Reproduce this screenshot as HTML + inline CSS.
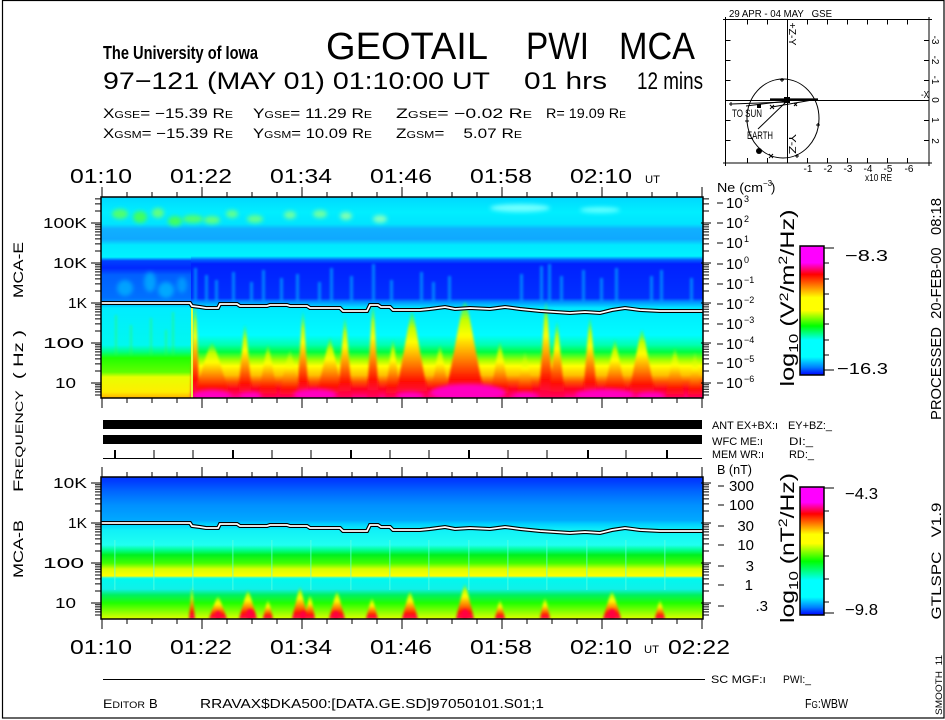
<!DOCTYPE html>
<html>
<head>
<meta charset="utf-8">
<style>
html,body{margin:0;padding:0;background:#fff;}
body{width:945px;height:720px;overflow:hidden;}
svg{display:block;}
text{font-family:"Liberation Sans",sans-serif;fill:#000;}
</style>
</head>
<body>
<svg width="945" height="720" viewBox="0 0 945 720" xmlns="http://www.w3.org/2000/svg">
<defs>
  <linearGradient id="gTopR" gradientUnits="userSpaceOnUse" x1="0" y1="197" x2="0" y2="398">
    <stop offset="0" stop-color="#00d8ff"/>
    <stop offset="0.075" stop-color="#00eeff"/>
    <stop offset="0.134" stop-color="#00e4ff"/>
    <stop offset="0.159" stop-color="#10b0ff"/>
    <stop offset="0.209" stop-color="#10a8ff"/>
    <stop offset="0.239" stop-color="#00e8ff"/>
    <stop offset="0.294" stop-color="#00f2ff"/>
    <stop offset="0.313" stop-color="#0060ff"/>
    <stop offset="0.333" stop-color="#0020ff"/>
    <stop offset="0.502" stop-color="#0030ff"/>
    <stop offset="0.522" stop-color="#0090ff"/>
    <stop offset="0.552" stop-color="#00e8ff"/>
    <stop offset="0.687" stop-color="#00fcff"/>
    <stop offset="0.736" stop-color="#00ffb0"/>
    <stop offset="0.771" stop-color="#00ff40"/>
    <stop offset="0.811" stop-color="#a0ff00"/>
    <stop offset="0.841" stop-color="#ffff00"/>
    <stop offset="0.886" stop-color="#ffc000"/>
    <stop offset="0.920" stop-color="#ff5000"/>
    <stop offset="0.955" stop-color="#ff0020"/>
    <stop offset="1" stop-color="#ff0090"/>
  </linearGradient>
  <linearGradient id="gTopL" gradientUnits="userSpaceOnUse" x1="0" y1="197" x2="0" y2="398">
    <stop offset="0" stop-color="#00d8ff"/>
    <stop offset="0.075" stop-color="#00eeff"/>
    <stop offset="0.134" stop-color="#00e4ff"/>
    <stop offset="0.159" stop-color="#10b0ff"/>
    <stop offset="0.209" stop-color="#10a8ff"/>
    <stop offset="0.239" stop-color="#00e8ff"/>
    <stop offset="0.299" stop-color="#00f2ff"/>
    <stop offset="0.318" stop-color="#0040ff"/>
    <stop offset="0.353" stop-color="#0028ff"/>
    <stop offset="0.388" stop-color="#0060ff"/>
    <stop offset="0.502" stop-color="#0070ff"/>
    <stop offset="0.522" stop-color="#0090ff"/>
    <stop offset="0.552" stop-color="#00ecff"/>
    <stop offset="0.736" stop-color="#00f8f0"/>
    <stop offset="0.771" stop-color="#00ff80"/>
    <stop offset="0.801" stop-color="#20ff00"/>
    <stop offset="0.871" stop-color="#60ff00"/>
    <stop offset="0.896" stop-color="#e8ff00"/>
    <stop offset="0.970" stop-color="#ffee00"/>
    <stop offset="1" stop-color="#ffb000"/>
  </linearGradient>
  <linearGradient id="gBot" gradientUnits="userSpaceOnUse" x1="0" y1="477" x2="0" y2="619">
    <stop offset="0" stop-color="#0030ff"/>
    <stop offset="0.035" stop-color="#0040ff"/>
    <stop offset="0.106" stop-color="#0068ff"/>
    <stop offset="0.197" stop-color="#0090ff"/>
    <stop offset="0.303" stop-color="#00a8ff"/>
    <stop offset="0.331" stop-color="#00d0ff"/>
    <stop offset="0.373" stop-color="#10f0f8"/>
    <stop offset="0.479" stop-color="#20fff0"/>
    <stop offset="0.514" stop-color="#00ff90"/>
    <stop offset="0.549" stop-color="#00f020"/>
    <stop offset="0.606" stop-color="#40ff00"/>
    <stop offset="0.648" stop-color="#d8ff00"/>
    <stop offset="0.697" stop-color="#ffff00"/>
    <stop offset="0.708" stop-color="#40ffc0"/>
    <stop offset="0.718" stop-color="#00f8f0"/>
    <stop offset="0.789" stop-color="#10f0e8"/>
    <stop offset="0.831" stop-color="#00f060"/>
    <stop offset="0.887" stop-color="#20ff00"/>
    <stop offset="0.944" stop-color="#80ff00"/>
    <stop offset="1" stop-color="#e0ff00"/>
  </linearGradient>
  <linearGradient id="flame" x1="0" y1="0" x2="0" y2="1">
    <stop offset="0" stop-color="#30ff40" stop-opacity="0.5"/>
    <stop offset="0.18" stop-color="#c0ff00"/>
    <stop offset="0.35" stop-color="#ffff00"/>
    <stop offset="0.6" stop-color="#ff8000"/>
    <stop offset="0.8" stop-color="#ff1000"/>
    <stop offset="1" stop-color="#ff0060"/>
  </linearGradient>
  <linearGradient id="cb1" x1="0" y1="0" x2="0" y2="1">
    <stop offset="0" stop-color="#ff00ff"/>
    <stop offset="0.13" stop-color="#ff00ff"/>
    <stop offset="0.22" stop-color="#ff0000"/>
    <stop offset="0.31" stop-color="#ff8000"/>
    <stop offset="0.40" stop-color="#ffff00"/>
    <stop offset="0.50" stop-color="#ffff00"/>
    <stop offset="0.62" stop-color="#00ff00"/>
    <stop offset="0.73" stop-color="#00ffff"/>
    <stop offset="0.86" stop-color="#00ffff"/>
    <stop offset="0.94" stop-color="#0080ff"/>
    <stop offset="1" stop-color="#0000ff"/>
  </linearGradient>
  <linearGradient id="cb2" x1="0" y1="0" x2="0" y2="1">
    <stop offset="0" stop-color="#ff00ff"/>
    <stop offset="0.12" stop-color="#ff00ff"/>
    <stop offset="0.21" stop-color="#ff0000"/>
    <stop offset="0.29" stop-color="#ff8000"/>
    <stop offset="0.37" stop-color="#ffff00"/>
    <stop offset="0.44" stop-color="#ffff00"/>
    <stop offset="0.58" stop-color="#00ff00"/>
    <stop offset="0.73" stop-color="#00ffff"/>
    <stop offset="0.86" stop-color="#00ffff"/>
    <stop offset="0.94" stop-color="#0080ff"/>
    <stop offset="1" stop-color="#0000ff"/>
  </linearGradient>
  <clipPath id="cTop"><rect x="101" y="197" width="602" height="201"/></clipPath>
  <clipPath id="cBot"><rect x="101" y="477" width="602" height="142"/></clipPath>
  <filter id="bl2" x="-30%" y="-30%" width="160%" height="160%"><feGaussianBlur stdDeviation="2"/></filter>
  <filter id="bl1" x="-30%" y="-30%" width="160%" height="160%"><feGaussianBlur stdDeviation="1.4"/></filter>
  <path id="tminT" d="M0 395h6M0 391.9h6M0 389.2h6M0 386.9h6M0 384.8h6M0 371h6M0 363.9h6M0 358.9h6M0 355h6M0 351.9h6M0 349.2h6M0 346.9h6M0 344.8h6M0 331h6M0 323.9h6M0 318.9h6M0 315h6M0 311.9h6M0 309.2h6M0 306.9h6M0 304.8h6M0 291h6M0 283.9h6M0 278.9h6M0 275h6M0 271.9h6M0 269.2h6M0 266.9h6M0 264.8h6M0 251h6M0 243.9h6M0 238.9h6M0 235h6M0 231.9h6M0 229.2h6M0 226.9h6M0 224.8h6M0 211h6M0 203.9h6M0 198.9h6"/>
  <path id="tmajT" d="M0 383h10M0 343h10M0 303h10M0 263h10M0 223h10"/>
  <path id="tminB" d="M0 604.8h6M0 606.9h6M0 609.2h6M0 611.9h6M0 615h6M0 591h6M0 583.9h6M0 578.9h6M0 575h6M0 571.9h6M0 569.2h6M0 566.9h6M0 564.8h6M0 551h6M0 543.9h6M0 538.9h6M0 535h6M0 531.9h6M0 529.2h6M0 526.9h6M0 524.8h6M0 511h6M0 503.9h6M0 498.9h6M0 495h6M0 491.9h6M0 489.2h6M0 486.9h6M0 484.8h6"/>
  <path id="tmajB" d="M0 603h10M0 563h10M0 523h10M0 483h10"/>
  <path id="xmaj" d="M102 0v10M202 0v10M302 0v10M402 0v10M502 0v10M602 0v10M702 0v10"/>
  <path id="xmin" d="M127 0v5M152 0v5M177 0v5M227 0v5M252 0v5M277 0v5M327 0v5M352 0v5M377 0v5M427 0v5M452 0v5M477 0v5M527 0v5M552 0v5M577 0v5M627 0v5M652 0v5M677 0v5"/>
</defs>

<!-- frame -->
<rect x="2.5" y="0.5" width="941.5" height="717.5" fill="none" stroke="#000" stroke-width="1.2"/>

<!-- header -->
<text x="103" y="59" font-size="18" font-weight="bold" textLength="155" lengthAdjust="spacingAndGlyphs">The University of Iowa</text>
<text x="326" y="59" font-size="38" textLength="162" lengthAdjust="spacingAndGlyphs">GEOTAIL</text>
<text x="526" y="59" font-size="38" textLength="63" lengthAdjust="spacingAndGlyphs">PWI</text>
<text x="619" y="59" font-size="38" textLength="76" lengthAdjust="spacingAndGlyphs">MCA</text>
<text x="103" y="89" font-size="24" textLength="387" lengthAdjust="spacingAndGlyphs">97−121 (MAY 01) 01:10:00 UT</text>
<text x="524" y="89" font-size="24" textLength="83" lengthAdjust="spacingAndGlyphs">01 hrs</text>
<text x="637" y="89" font-size="24" textLength="66" lengthAdjust="spacingAndGlyphs">12 mins</text>

<text x="103" y="118" font-size="14" textLength="130" lengthAdjust="spacingAndGlyphs">X<tspan font-size="10">GSE</tspan>= −15.39 R<tspan font-size="10">E</tspan></text>
<text x="253" y="118" font-size="14" textLength="119" lengthAdjust="spacingAndGlyphs">Y<tspan font-size="10">GSE</tspan>=  11.29 R<tspan font-size="10">E</tspan></text>
<text x="396" y="118" font-size="14" textLength="136" lengthAdjust="spacingAndGlyphs">Z<tspan font-size="10">GSE</tspan>=  −0.02 R<tspan font-size="10">E</tspan></text>
<text x="546" y="118" font-size="14" textLength="80" lengthAdjust="spacingAndGlyphs">R= 19.09 R<tspan font-size="10">E</tspan></text>
<text x="103" y="138" font-size="14" textLength="130" lengthAdjust="spacingAndGlyphs">X<tspan font-size="10">GSM</tspan>= −15.39 R<tspan font-size="10">E</tspan></text>
<text x="253" y="138" font-size="14" textLength="119" lengthAdjust="spacingAndGlyphs">Y<tspan font-size="10">GSM</tspan>=  10.09 R<tspan font-size="10">E</tspan></text>
<text x="396" y="138" font-size="14" textLength="126" lengthAdjust="spacingAndGlyphs" xml:space="preserve">Z<tspan font-size="10">GSM</tspan>=    5.07 R<tspan font-size="10">E</tspan></text>

<!-- orbit plot -->
<g stroke="#000" fill="none" stroke-width="1">
  <rect x="725.5" y="19.5" width="203.5" height="143.5"/>
  <path d="M787.5 19.5V163M725.5 100.5H929"/>
  <path d="M747.5 19.5v5M767.5 19.5v5M807.5 19.5v5M827.5 19.5v5M847.5 19.5v5M867.5 19.5v5M887.5 19.5v5M907.5 19.5v5"/>
  <path d="M747.5 163v-5M767.5 163v-5M807.5 163v-5M827.5 163v-5M847.5 163v-5M867.5 163v-5M887.5 163v-5M907.5 163v-5"/>
  <path d="M725.5 40.5h5M725.5 60.5h5M725.5 80.5h5M725.5 120.5h5M725.5 140.5h5"/>
  <path d="M929 40.5h-5M929 60.5h-5M929 80.5h-5M929 120.5h-5M929 140.5h-5"/>
  <path d="M723 19.5h5M725.5 17v5M927 19.5h5M929 17v5M723 163h5M725.5 161v5M927 163h5M929 161v5"/>
  <ellipse cx="783" cy="118.5" rx="36" ry="39.5"/>
  <path d="M731 104L787 102"/>
  <path d="M746 106L787 101"/>
  <path d="M772 107L818 99"/>
  <path d="M770 99.5L818 99.5" stroke-width="2.2"/>
  <path d="M758 129L787 101"/>
  <path d="M729 104h4M731 102v4"/>
  <path d="M780 80h4M782 78v4M816 125h4M818 123v4M795 156h4M797 154v4M745 121h4M747 119v4M769 154l4 4M773 154l-4 4M770 105l4 4M774 105l-4 4M794 103l3 3M797 103l-3 3"/>
</g>
<rect x="757" y="104" width="4" height="4" fill="#000"/>
<circle cx="759" cy="151" r="3" fill="#000"/>
<rect x="784" y="97" width="6" height="6" fill="#000"/>
<text x="729" y="17" font-size="10" textLength="103" lengthAdjust="spacingAndGlyphs" xml:space="preserve">29 APR - 04 MAY   GSE</text>
<text x="732" y="117" font-size="11" textLength="30" lengthAdjust="spacingAndGlyphs">TO SUN</text>
<text x="747" y="139" font-size="11" textLength="26" lengthAdjust="spacingAndGlyphs">EARTH</text>
<text x="921" y="98" font-size="10" textLength="8" lengthAdjust="spacingAndGlyphs">-X</text>
<text x="865" y="181" font-size="10" textLength="27" lengthAdjust="spacingAndGlyphs">x10 RE</text>
<g font-size="10" text-anchor="middle">
  <text x="808" y="172">-1</text><text x="828" y="172">-2</text><text x="848" y="172">-3</text>
  <text x="868" y="172">-4</text><text x="888" y="172">-5</text><text x="909" y="172">-6</text>
</g>
<g font-size="10" text-anchor="middle">
  <text transform="translate(932,40) rotate(90)">-3</text>
  <text transform="translate(932,60) rotate(90)">-2</text>
  <text transform="translate(932,80) rotate(90)">-1</text>
  <text transform="translate(932,100) rotate(90)">0</text>
  <text transform="translate(932,120) rotate(90)">1</text>
  <text transform="translate(932,141) rotate(90)">2</text>
  <text transform="translate(789,34) rotate(90)" textLength="23" lengthAdjust="spacingAndGlyphs">+Z-Y</text>
  <text transform="translate(789,144) rotate(90)" textLength="20" lengthAdjust="spacingAndGlyphs">Y-Z</text>
</g>

<!-- time labels top -->
<g font-size="20" text-anchor="middle">
  <text x="101" y="183" textLength="62" lengthAdjust="spacingAndGlyphs">01:10</text>
  <text x="201" y="183" textLength="62" lengthAdjust="spacingAndGlyphs">01:22</text>
  <text x="301" y="183" textLength="62" lengthAdjust="spacingAndGlyphs">01:34</text>
  <text x="401" y="183" textLength="62" lengthAdjust="spacingAndGlyphs">01:46</text>
  <text x="501" y="183" textLength="62" lengthAdjust="spacingAndGlyphs">01:58</text>
  <text x="601" y="183" textLength="62" lengthAdjust="spacingAndGlyphs">02:10</text>
</g>
<text x="645" y="183" font-size="11" textLength="15" lengthAdjust="spacingAndGlyphs">UT</text>

<!-- TOP PANEL -->
<g clip-path="url(#cTop)">
  <rect x="101" y="197" width="602" height="201" fill="url(#gTopR)"/>
  <rect x="101" y="197" width="90" height="201" fill="url(#gTopL)"/>
  <g filter="url(#bl2)">
    <ellipse cx="120" cy="214" rx="8" ry="5" fill="#50ff70"/>
    <ellipse cx="140" cy="217" rx="7" ry="6" fill="#40ff60"/>
    <ellipse cx="158" cy="213" rx="6" ry="5" fill="#60ff80"/>
    <ellipse cx="175" cy="221" rx="7" ry="5" fill="#40ff60"/>
    <ellipse cx="193" cy="219" rx="10" ry="4" fill="#50ff70"/>
    <ellipse cx="212" cy="220" rx="8" ry="4" fill="#60ff80"/>
    <ellipse cx="232" cy="214" rx="6" ry="4" fill="#60ff90"/>
    <ellipse cx="255" cy="219" rx="8" ry="4" fill="#60ff90"/>
    <ellipse cx="290" cy="215" rx="6" ry="4" fill="#70ffa0"/>
    <ellipse cx="320" cy="214" rx="7" ry="4" fill="#70ffa0"/>
    <ellipse cx="346" cy="216" rx="6" ry="4" fill="#80ffb0"/>
    <ellipse cx="380" cy="219" rx="7" ry="4" fill="#80ffc0"/>
    <ellipse cx="520" cy="208" rx="30" ry="4" fill="#70ffff"/>
    <ellipse cx="600" cy="210" rx="20" ry="3" fill="#60ffff"/>
    <ellipse cx="125" cy="288" rx="8" ry="8" fill="#00c8ff" opacity="0.6"/>
    <ellipse cx="150" cy="282" rx="6" ry="10" fill="#00c8ff" opacity="0.6"/>
    <ellipse cx="166" cy="290" rx="8" ry="8" fill="#00d0ff" opacity="0.6"/>
    <ellipse cx="182" cy="285" rx="5" ry="8" fill="#00b8ff" opacity="0.6"/>
  </g>
  <g filter="url(#bl1)" fill="#40ff40" opacity="0.45">
    <rect x="115" y="315" width="2" height="40"/>
    <rect x="130" y="325" width="2" height="30"/>
    <rect x="150" y="318" width="2" height="37"/>
    <rect x="165" y="330" width="2" height="25"/>
    <rect x="172" y="312" width="2" height="43"/>
  </g>
  <g filter="url(#bl1)" fill="#00a0ff" opacity="0.75">
    <rect x="194" y="268" width="3" height="34"/>
    <rect x="205" y="275" width="3" height="27"/>
    <rect x="215" y="280" width="3" height="22"/>
    <rect x="232" y="272" width="3" height="30"/>
    <rect x="250" y="282" width="3" height="20"/>
    <rect x="262" y="270" width="3" height="32"/>
    <rect x="280" y="278" width="3" height="24"/>
    <rect x="296" y="274" width="3" height="28"/>
    <rect x="318" y="282" width="3" height="20"/>
    <rect x="330" y="268" width="3" height="34"/>
    <rect x="350" y="276" width="3" height="26"/>
    <rect x="372" y="264" width="3" height="38"/>
    <rect x="390" y="280" width="3" height="22"/>
    <rect x="420" y="272" width="3" height="30"/>
    <rect x="432" y="282" width="3" height="20"/>
    <rect x="448" y="276" width="3" height="26"/>
    <rect x="520" y="274" width="3" height="28"/>
    <rect x="540" y="266" width="3" height="36"/>
    <rect x="548" y="264" width="3" height="38"/>
    <rect x="560" y="276" width="3" height="26"/>
    <rect x="582" y="270" width="3" height="32"/>
    <rect x="600" y="278" width="3" height="24"/>
    <rect x="615" y="268" width="3" height="34"/>
    <rect x="650" y="276" width="3" height="26"/>
    <rect x="660" y="270" width="3" height="32"/>
    <rect x="690" y="278" width="3" height="24"/>
  </g>
  <g filter="url(#bl1)" fill="url(#flame)">
    <path d="M191 398C192 350 193 320 195 304C197 320 198 350 199 398Z"/>
    <path d="M193 398C202 372 209 343 212 343C215 343 222 372 231 398Z"/>
    <path d="M238 398C241 360 244 325 245 325C246 325 249 360 252 398Z"/>
    <path d="M258 398C263 370 267 345 268 345C269 345 273 370 278 398Z"/>
    <path d="M278 398C284 373 289 350 290 350C291 350 296 373 302 398Z"/>
    <path d="M297 398C300 355 302 312 303 312C304 312 306 355 309 398Z"/>
    <path d="M316 398C323 368 329 338 330 338C331 338 337 368 344 398Z"/>
    <path d="M338 398C341 358 344 318 345 318C346 318 349 358 352 398Z"/>
    <path d="M367 398C370 350 372 305 373 305C374 305 376 350 379 398Z"/>
    <path d="M385 398C389 370 392 340 393 340C394 340 397 370 401 398Z"/>
    <path d="M395 398C404 355 410 312 412 312C414 312 420 355 429 398Z"/>
    <path d="M430 398C435 372 439 345 440 345C441 345 445 372 450 398Z"/>
    <path d="M445 398C455 350 462 302 465 302C468 302 475 350 485 398Z"/>
    <path d="M490 398C495 370 499 342 500 342C501 342 505 370 510 398Z"/>
    <path d="M516 398C520 375 524 352 525 352C526 352 530 375 534 398Z"/>
    <path d="M539 398C542 350 545 302 546 302C547 302 550 350 553 398Z"/>
    <path d="M549 398C553 360 556 322 557 322C558 322 561 360 565 398Z"/>
    <path d="M583 398C586 358 589 318 590 318C591 318 594 358 597 398Z"/>
    <path d="M603 398C609 370 614 340 615 340C616 340 621 370 627 398Z"/>
    <path d="M628 398C635 365 640 330 642 330C644 330 649 365 656 398Z"/>
    <path d="M665 398C670 373 674 348 675 348C676 348 680 373 685 398Z"/>
    <path d="M687 398C691 375 694 352 695 352C696 352 699 375 703 398Z"/>
  </g>
  <g filter="url(#bl2)" fill="#ff00c0">
    <ellipse cx="212" cy="396" rx="20" ry="6"/>
    <ellipse cx="250" cy="396" rx="12" ry="4"/>
    <ellipse cx="315" cy="395" rx="22" ry="6"/>
    <ellipse cx="410" cy="396" rx="14" ry="4"/>
    <ellipse cx="468" cy="393" rx="38" ry="9"/>
    <ellipse cx="525" cy="396" rx="12" ry="4"/>
    <ellipse cx="605" cy="395" rx="30" ry="6"/>
    <ellipse cx="650" cy="396" rx="14" ry="4"/>
  </g>
  <rect x="191" y="305" width="2" height="93" fill="#e0ff40"/>
  <polyline fill="none" stroke="#000" stroke-width="4" points="101,303 190,303 192,306 200,307 206,308 218,308 220,304 237,304 240,306 267,306 270,305 287,305 290,306 307,306 310,308 340,308 343,311 367,311 370,305 378,305 381,307 390,307 393,310 420,310 430,309 445,307 455,309 470,308 490,309 505,307 520,309 540,311 555,312 570,313 585,312 600,313 612,310 625,308 640,310 660,311 680,311 703,311"/>
  <polyline fill="none" stroke="#fff" stroke-width="1.8" points="101,303 190,303 192,306 200,307 206,308 218,308 220,304 237,304 240,306 267,306 270,305 287,305 290,306 307,306 310,308 340,308 343,311 367,311 370,305 378,305 381,307 390,307 393,310 420,310 430,309 445,307 455,309 470,308 490,309 505,307 520,309 540,311 555,312 570,313 585,312 600,313 612,310 625,308 640,310 660,311 680,311 703,311"/>
</g>
<rect x="101" y="197" width="602" height="201" fill="none" stroke="#000" stroke-width="1.5"/>
<g stroke="#000" stroke-width="1" fill="none">
  <use href="#tminT" x="95"/>
  <use href="#tmajT" x="91"/>
  <use href="#tminT" x="703"/>
  <use href="#tmajT" x="701"/>
  <use href="#xmaj" y="187"/>
  <use href="#xmin" y="192"/>
  <use href="#xmaj" y="398"/>
  <use href="#xmin" y="398"/>
</g>
<g font-size="15">
  <text x="43" y="228" textLength="44" lengthAdjust="spacingAndGlyphs">100K</text>
  <text x="53" y="268" textLength="34" lengthAdjust="spacingAndGlyphs">10K</text>
  <text x="68" y="308" textLength="19" lengthAdjust="spacingAndGlyphs">1K</text>
  <text x="43" y="348" textLength="41" lengthAdjust="spacingAndGlyphs">100</text>
  <text x="55" y="388" textLength="21" lengthAdjust="spacingAndGlyphs">10</text>
</g>

<!-- Ne axis -->
<text x="717" y="192" font-size="13" textLength="46" lengthAdjust="spacingAndGlyphs">Ne (cm</text>
<text x="763" y="186" font-size="8">−3</text>
<text x="771" y="192" font-size="13">)</text>
<g stroke="#000" stroke-width="1">
  <path d="M717 203h6M717 223h6M717 243h6M717 264h6M717 284h6M717 304h6M717 324h6M717 344h6M717 363h6M717 383h6"/>
</g>
<g font-size="15">
  <text x="726" y="208">10</text><text x="744" y="202" font-size="9">3</text>
  <text x="726" y="228">10</text><text x="744" y="222" font-size="9">2</text>
  <text x="726" y="248">10</text><text x="744" y="242" font-size="9">1</text>
  <text x="726" y="269">10</text><text x="744" y="263" font-size="9">0</text>
  <text x="726" y="289">10</text><text x="744" y="283" font-size="9">−1</text>
  <text x="726" y="309">10</text><text x="744" y="303" font-size="9">−2</text>
  <text x="726" y="329">10</text><text x="744" y="323" font-size="9">−3</text>
  <text x="726" y="349">10</text><text x="744" y="343" font-size="9">−4</text>
  <text x="726" y="368">10</text><text x="744" y="362" font-size="9">−5</text>
  <text x="726" y="388">10</text><text x="744" y="382" font-size="9">−6</text>
</g>

<!-- colorbar top -->
<rect x="800" y="246" width="24" height="129" fill="url(#cb1)" stroke="#000" stroke-width="1.5"/>
<g stroke="#000" stroke-width="1">
  <path d="M824 248h10M824 263h5M824 279h5M824 294h5M824 309h5M824 324h5M824 340h5M824 355h5M824 370h10"/>
</g>
<text x="845" y="261" font-size="16" textLength="43" lengthAdjust="spacingAndGlyphs">−8.3</text>
<text x="837" y="374" font-size="16" textLength="51" lengthAdjust="spacingAndGlyphs">−16.3</text>
<text transform="translate(794,298) rotate(-90)" font-size="19" text-anchor="middle" textLength="177" lengthAdjust="spacingAndGlyphs">log<tspan font-size="13" dy="4">10</tspan><tspan dy="-4"> (V</tspan><tspan font-size="12" dy="-6">2</tspan><tspan dy="6">/m</tspan><tspan font-size="12" dy="-7">2</tspan><tspan dy="7">/Hz)</tspan></text>

<!-- processed -->
<text transform="translate(941,309) rotate(-90)" font-size="15" text-anchor="middle" textLength="222" lengthAdjust="spacingAndGlyphs" xml:space="preserve">PROCESSED  20-FEB-00   08:18</text>

<!-- middle bars -->
<rect x="103" y="420" width="599" height="9" fill="#000"/>
<rect x="103" y="435" width="599" height="9" fill="#000"/>
<g stroke="#000" fill="none">
  <path d="M103 458.5H702" stroke-width="1"/>
  <path d="M154 450v8M193 450v8M272 450v8M311 450v8M390 450v8M429 450v8M508 450v8M547 450v8M626 450v8" stroke-width="1"/>
  <path d="M115 450v8M233 450v8M351 450v8M469 450v8M588 450v8M667 450v8" stroke-width="2"/>
</g>
<g font-size="11">
  <text x="712" y="429" textLength="66" lengthAdjust="spacingAndGlyphs">ANT EX+BX:ı</text>
  <text x="788" y="429" textLength="44" lengthAdjust="spacingAndGlyphs">EY+BZ:_</text>
  <text x="712" y="445" textLength="51" lengthAdjust="spacingAndGlyphs">WFC ME:ı</text>
  <text x="789" y="445" textLength="24" lengthAdjust="spacingAndGlyphs">DI:_</text>
  <text x="712" y="458" textLength="52" lengthAdjust="spacingAndGlyphs">MEM WR:ı</text>
  <text x="789" y="458" textLength="25" lengthAdjust="spacingAndGlyphs">RD:_</text>
</g>
<text x="717" y="474" font-size="13" textLength="35" lengthAdjust="spacingAndGlyphs">B (nT)</text>

<!-- BOTTOM PANEL -->
<g clip-path="url(#cBot)">
  <rect x="101" y="477" width="602" height="142" fill="url(#gBot)"/>
  <g fill="#60ffe0" opacity="0.5">
    <rect x="114" y="540" width="1.6" height="50"/><rect x="153" y="540" width="1.6" height="50"/>
    <rect x="192" y="540" width="1.6" height="50"/><rect x="232" y="540" width="1.6" height="50"/>
    <rect x="271" y="540" width="1.6" height="50"/><rect x="310" y="540" width="1.6" height="50"/>
    <rect x="350" y="540" width="1.6" height="50"/><rect x="389" y="540" width="1.6" height="50"/>
    <rect x="428" y="540" width="1.6" height="50"/><rect x="468" y="540" width="1.6" height="50"/>
    <rect x="507" y="540" width="1.6" height="50"/><rect x="546" y="540" width="1.6" height="50"/>
    <rect x="586" y="540" width="1.6" height="50"/><rect x="625" y="540" width="1.6" height="50"/>
    <rect x="664" y="540" width="1.6" height="50"/>
  </g>
  <g filter="url(#bl1)" fill="url(#flame)">
    <path d="M189 619C191 600 192 585 192 585C192 585 193 600 195 619Z"/>
    <path d="M209 619C213 608 217 596 218 596C219 596 223 608 227 619Z"/>
    <path d="M239 619C243 605 247 590 248 590C249 590 253 605 257 619Z"/>
    <path d="M263 619C265 610 267 600 268 600C269 600 271 610 273 619Z"/>
    <path d="M292 619C296 603 299 587 300 587C301 587 304 603 308 619Z"/>
    <path d="M305 619C307 607 309 595 310 595C311 595 313 607 315 619Z"/>
    <path d="M329 619C333 605 336 591 337 591C338 591 341 605 345 619Z"/>
    <path d="M366 619C369 608 371 598 372 598C373 598 375 608 378 619Z"/>
    <path d="M402 619C406 605 409 591 410 591C411 591 414 605 418 619Z"/>
    <path d="M456 619C460 602 464 584 465 584C466 584 470 602 474 619Z"/>
    <path d="M495 619C497 610 499 600 500 600C501 600 503 610 505 619Z"/>
    <path d="M540 619C542 608 544 598 545 598C546 598 548 608 550 619Z"/>
    <path d="M603 619C607 605 611 591 612 591C613 591 617 605 621 619Z"/>
    <path d="M655 619C657 610 659 600 660 600C661 600 663 610 665 619Z"/>
  </g>
  <g fill="#ff0040" filter="url(#bl1)">
    <ellipse cx="218" cy="615" rx="3" ry="4"/>
    <ellipse cx="250" cy="614" rx="4" ry="5"/>
    <ellipse cx="303" cy="615" rx="3" ry="4"/>
    <ellipse cx="336" cy="615" rx="3" ry="4"/>
    <ellipse cx="465" cy="614" rx="4" ry="5"/>
    <ellipse cx="612" cy="614" rx="4" ry="5"/>
  </g>
  <polyline fill="none" stroke="#000" stroke-width="4" points="101,523 190,523 192,526 200,527 206,528 218,528 220,524 237,524 240,526 267,526 270,525 287,525 290,526 307,526 310,528 340,528 343,531 367,531 370,525 378,525 381,527 390,527 393,530 420,530 430,529 445,527 455,529 470,528 490,529 505,527 520,529 540,531 555,532 570,533 585,532 600,533 612,530 625,528 640,530 660,531 680,531 703,531"/>
  <polyline fill="none" stroke="#fff" stroke-width="1.8" points="101,523 190,523 192,526 200,527 206,528 218,528 220,524 237,524 240,526 267,526 270,525 287,525 290,526 307,526 310,528 340,528 343,531 367,531 370,525 378,525 381,527 390,527 393,530 420,530 430,529 445,527 455,529 470,528 490,529 505,527 520,529 540,531 555,532 570,533 585,532 600,533 612,530 625,528 640,530 660,531 680,531 703,531"/>
</g>
<rect x="101" y="477" width="602" height="142" fill="none" stroke="#000" stroke-width="1.5"/>
<g stroke="#000" stroke-width="1" fill="none">
  <use href="#tminB" x="95"/>
  <use href="#tmajB" x="91"/>
  <use href="#tminB" x="703"/>
  <use href="#tmajB" x="701"/>
  <use href="#xmaj" y="467"/>
  <use href="#xmin" y="472"/>
  <use href="#xmaj" y="619"/>
  <use href="#xmin" y="619"/>
</g>
<g font-size="15">
  <text x="53" y="488" textLength="34" lengthAdjust="spacingAndGlyphs">10K</text>
  <text x="68" y="528" textLength="19" lengthAdjust="spacingAndGlyphs">1K</text>
  <text x="43" y="568" textLength="41" lengthAdjust="spacingAndGlyphs">100</text>
  <text x="55" y="608" textLength="21" lengthAdjust="spacingAndGlyphs">10</text>
</g>

<!-- B axis labels -->
<g stroke="#000" stroke-width="1">
  <path d="M718 486h6M718 505h6M718 526h6M718 545h6M718 566h6M718 585h6M718 606h6"/>
</g>
<g font-size="15" text-anchor="end">
  <text x="754" y="491">300</text>
  <text x="754" y="510">100</text>
  <text x="754" y="531">30</text>
  <text x="754" y="550">10</text>
  <text x="754" y="571">3</text>
  <text x="753" y="590">1</text>
  <text x="768" y="611">.3</text>
</g>

<!-- colorbar bottom -->
<rect x="800" y="487" width="24" height="128" fill="url(#cb2)" stroke="#000" stroke-width="1.5"/>
<g stroke="#000" stroke-width="1">
  <path d="M824 488h10M824 511h5M824 533h5M824 556h5M824 579h5M824 602h5M824 613h10"/>
</g>
<text x="845" y="499" font-size="16" textLength="33" lengthAdjust="spacingAndGlyphs">−4.3</text>
<text x="845" y="615" font-size="16" textLength="33" lengthAdjust="spacingAndGlyphs">−9.8</text>
<text transform="translate(794,548) rotate(-90)" font-size="19" text-anchor="middle" textLength="150" lengthAdjust="spacingAndGlyphs">log<tspan font-size="13" dy="4">10</tspan><tspan dy="-4"> (nT</tspan><tspan font-size="12" dy="-7">2</tspan><tspan dy="7">/Hz)</tspan></text>
<text transform="translate(941,561) rotate(-90)" font-size="14" text-anchor="middle" textLength="117" lengthAdjust="spacingAndGlyphs" xml:space="preserve">GTLSPC   V1.9</text>

<!-- left labels -->
<text transform="translate(23,270) rotate(-90)" font-size="14" text-anchor="middle" textLength="56" lengthAdjust="spacingAndGlyphs">MCA-E</text>
<text transform="translate(23,411) rotate(-90)" font-size="14" text-anchor="middle" textLength="162" lengthAdjust="spacingAndGlyphs" xml:space="preserve">F<tspan font-size="11">REQUENCY</tspan>  ( Hz )</text>
<text transform="translate(23,549) rotate(-90)" font-size="14" text-anchor="middle" textLength="58" lengthAdjust="spacingAndGlyphs">MCA-B</text>

<!-- time labels bottom -->
<g font-size="20" text-anchor="middle">
  <text x="101" y="654" textLength="62" lengthAdjust="spacingAndGlyphs">01:10</text>
  <text x="201" y="654" textLength="62" lengthAdjust="spacingAndGlyphs">01:22</text>
  <text x="301" y="654" textLength="62" lengthAdjust="spacingAndGlyphs">01:34</text>
  <text x="401" y="654" textLength="62" lengthAdjust="spacingAndGlyphs">01:46</text>
  <text x="501" y="654" textLength="62" lengthAdjust="spacingAndGlyphs">01:58</text>
  <text x="601" y="654" textLength="62" lengthAdjust="spacingAndGlyphs">02:10</text>
  <text x="699" y="654" textLength="62" lengthAdjust="spacingAndGlyphs">02:22</text>
</g>
<text x="644" y="653" font-size="11" textLength="15" lengthAdjust="spacingAndGlyphs">UT</text>

<!-- bottom -->
<path d="M103 679.5H705" stroke="#000" stroke-width="1"/>
<text x="711" y="683" font-size="11" textLength="55" lengthAdjust="spacingAndGlyphs">SC MGF:ı</text>
<text x="783" y="683" font-size="11" textLength="28" lengthAdjust="spacingAndGlyphs">PWI:_</text>
<text x="103" y="708" font-size="12" textLength="42" lengthAdjust="spacingAndGlyphs">E<tspan font-size="9">DITOR</tspan></text>
<text x="149" y="708" font-size="13">B</text>
<text x="200" y="708" font-size="13" textLength="344" lengthAdjust="spacingAndGlyphs">RRAVAX$DKA500:[DATA.GE.SD]97050101.S01;1</text>
<text x="805" y="708" font-size="13" textLength="43" lengthAdjust="spacingAndGlyphs">F<tspan font-size="10">G</tspan>:WBW</text>
<text transform="translate(942,685) rotate(-90)" font-size="9" text-anchor="middle" textLength="60" lengthAdjust="spacingAndGlyphs" xml:space="preserve">SMOOTH  11</text>
</svg>
</body>
</html>
